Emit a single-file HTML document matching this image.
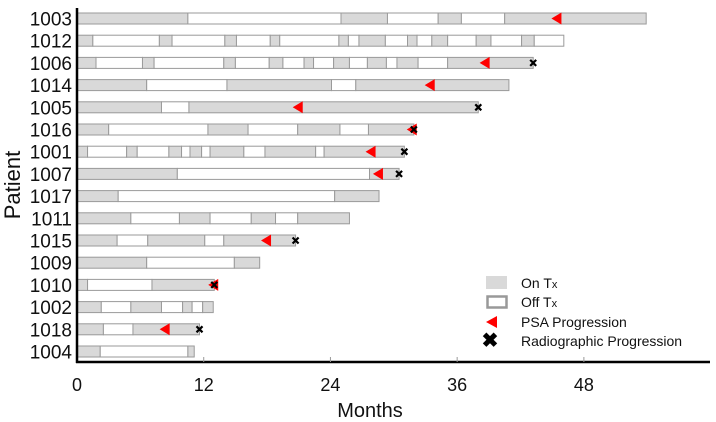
<!DOCTYPE html>
<html><head><meta charset="utf-8"><style>
html,body{margin:0;padding:0;background:#fff}
svg{display:block;font-family:"Liberation Sans",Arial,sans-serif}
</style></head><body>
<svg id="chart" width="716" height="422" viewBox="0 0 716 422">
<g id="bars"></g>
<g id="axes"></g>
<g id="legend">
  <rect x="486" y="276" width="21" height="13" fill="#d9d9d9"/>
  <text x="521" y="288" font-size="14" fill="#111">On T<tspan font-size="11">x</tspan></text>
  <rect x="487.5" y="296.5" width="19" height="11" fill="#fff" stroke="#999" stroke-width="2.5"/>
  <text x="521" y="307" font-size="14" fill="#111">Off T<tspan font-size="11">x</tspan></text>
  <polygon points="486,322 497,316 497,328" fill="#f00"/>
  <text x="521" y="327" font-size="14" fill="#111">PSA Progression</text>
  <text x="490" y="347" font-size="20" font-weight="bold" text-anchor="middle" fill="#000">✖</text>
  <text x="521" y="346" font-size="14" fill="#111">Radiographic Progression</text>
</g>
</svg>
<script>
const patients = ["1003","1012","1006","1014","1005","1016","1001","1007","1017","1011","1015","1009","1010","1002","1018","1004"];
// boundaries (months); segments alternate On (grey) / Off (white), starting On
const boundaries = [
 [0,10.5,25.0,29.4,34.2,36.4,40.5,53.9],
 [0,1.5,7.8,9.0,14.0,15.1,18.3,19.2,24.8,25.7,26.7,29.2,31.3,32.2,33.6,35.1,37.8,39.2,42.1,43.3,46.1],
 [0,1.8,6.2,7.3,13.9,15.0,18.2,19.5,21.5,22.4,24.3,25.8,27.5,29.3,30.3,32.3,35.1,43.2],
 [0,6.6,14.2,24.1,26.4,40.9],
 [0,8.0,10.6,38.0],
 [0,3.0,12.4,16.2,20.9,24.9,27.6,31.9],
 [0,1.0,4.7,5.7,8.7,9.9,10.7,11.8,12.6,15.8,17.8,22.6,23.4,31.0],
 [0,9.5,27.7,30.5],
 [0,3.9,24.4,28.6],
 [0,5.1,9.7,12.6,16.5,18.8,20.9,25.8],
 [0,3.8,6.7,12.1,13.9,20.7],
 [0,6.6,14.9,17.3],
 [0,1.0,7.1,13.0],
 [0,2.3,5.1,8.0,10.0,10.9,11.9,12.9],
 [0,2.5,5.3,11.6],
 [0,2.2,10.5,11.1]
];
const psaMonths = [45.4,null,38.6,33.4,20.9,31.7,27.8,28.5,null,null,17.9,null,12.9,null,8.3,null];
const radioMonths = [null,null,43.2,null,38.0,31.9,31.0,30.5,null,null,20.7,null,13.0,null,11.6,null];
const xTicks = [0,12,24,36,48];

const NS="http://www.w3.org/2000/svg";
const X0=77, PXM=10.56, Y0=18.5, DY=22.2, BH=11;
const xs=m=>X0+m*PXM;
const ys=i=>Y0+i*DY;
function mk(tag,attrs,parent){const e=document.createElementNS(NS,tag);for(const k in attrs)e.setAttribute(k,attrs[k]);parent.appendChild(e);return e;}
const bars=document.getElementById('bars'), axes=document.getElementById('axes');

patients.forEach((p,i)=>{
  const b=boundaries[i], cy=ys(i);
  for(let k=0;k<b.length-1;k++){
    const on=k%2===0;
    const r=mk('rect',{x:xs(b[k]),y:cy-BH/2,width:xs(b[k+1])-xs(b[k]),height:BH,fill:on?'#d9d9d9':'#fff',stroke:'#9a9a9a','stroke-width':1},bars);
    
    
  }
  const t=mk('text',{x:72,y:cy+7,'font-size':19,'text-anchor':'end',fill:'#111'},axes);
  t.textContent=p;
  
  
  if(psaMonths[i]!=null){
    const x=xs(psaMonths[i]);
    const m=mk('polygon',{points:`${x-5},${cy} ${x+5},${cy-6} ${x+5},${cy+6}`,fill:'#f00'},bars);
    
    
  }
  if(radioMonths[i]!=null){
    const x=xs(radioMonths[i]);
    const m=mk('path',{d:`M${x-3},${cy-3}L${x+3},${cy+3}M${x+3},${cy-3}L${x-3},${cy+3}`,stroke:'#000','stroke-width':2.2},bars);
    
    
  }
});

const ya=mk('line',{x1:X0,y1:8,x2:X0,y2:363,stroke:'#000','stroke-width':2.5},axes);


const xa=mk('line',{x1:X0-1,y1:362,x2:710,y2:362,stroke:'#000','stroke-width':2.5},axes);


xTicks.forEach(v=>{
  if(v>0){const tk=mk('line',{x1:xs(v),y1:357,x2:xs(v),y2:362,stroke:'#999','stroke-width':1},axes);
  
  }
  const t=mk('text',{x:xs(v),y:391,'font-size':18,'text-anchor':'middle',fill:'#111'},axes);
  t.textContent=v;
  
  
});
const xt=mk('text',{x:370,y:417,'font-size':20,'text-anchor':'middle',fill:'#111'},axes);
xt.textContent='Months';


const yt=mk('text',{x:0,y:0,'font-size':22,'text-anchor':'middle',fill:'#111',transform:'translate(20,185) rotate(-90)'},axes);
yt.textContent='Patient';


</script>
</body></html>
